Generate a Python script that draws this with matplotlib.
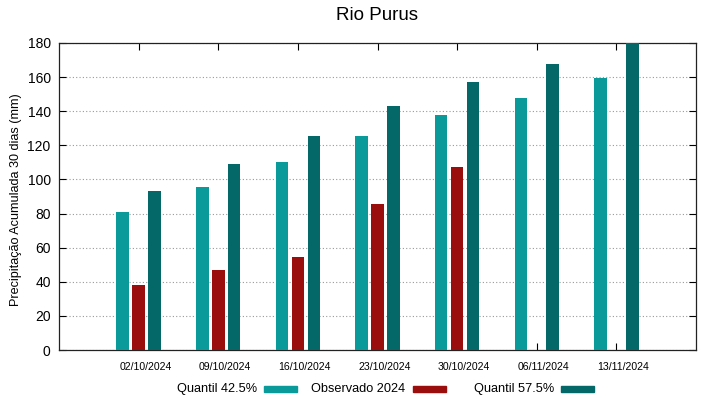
import matplotlib
matplotlib.use("Agg")
import matplotlib.pyplot as plt
from matplotlib.patches import Rectangle
import numpy as np

plt.rcParams['font.family'] = ['Liberation Sans', 'DejaVu Sans']

dates = ["02/10/2024", "09/10/2024", "16/10/2024", "23/10/2024",
         "30/10/2024", "06/11/2024", "13/11/2024"]
q425 = [80.8, 95.3, 110.2, 125.6, 137.9, 148.0, 159.4]
obs2024 = [38.1, 46.7, 54.5, 85.6, 107.5, np.nan, np.nan]
q575 = [93.4, 108.9, 125.7, 143.0, 157.0, 167.4, 181.0]

series_names = ["Quantil 42.5%", "Observado 2024", "Quantil 57.5%"]
colors = ["#0a9a9a", "#9a0e0e", "#046868"]

W, H = 719, 399
fig = plt.figure(figsize=(W / 100, H / 100), dpi=100)
ax = fig.add_axes([59 / W, 1 - 350 / H, (696 - 59) / W, (350 - 43) / H])

x = np.arange(1, len(dates) + 1)
width = 0.158
offsets = [-0.2, 0.0, 0.2]
for vals, off, c in zip([q425, obs2024, q575], offsets, colors):
    ax.bar(x + off, vals, width=width, color=c, zorder=3)

ax.set_xlim(0, 8)
ax.set_ylim(0, 180)
ax.set_yticks(np.arange(0, 181, 20))
# major ticks (marks only) at group centres, labels slightly right (gnuplot look)
ax.set_xticks(x)
ax.set_xticklabels([])
ax.set_xticks(x + 0.0875, minor=True)
ax.set_xticklabels(dates, minor=True, fontsize=7.6)
ax.tick_params(axis='x', which='minor', length=0, pad=9, top=False, bottom=False)
ax.tick_params(axis='y', labelsize=10, direction='in', length=5, pad=6,
               right=True, left=True)
ax.tick_params(axis='x', which='major', direction='in', length=5, top=True, bottom=True)
for sp in ax.spines.values():
    sp.set_linewidth(0.9)
    sp.set_color('#222222')
ax.yaxis.grid(True, linestyle=(0, (1, 2)), color='#999999', linewidth=0.8, zorder=0)
ax.set_axisbelow(True)

fig.text(16 / W, 1 - 200 / H, "Precipitação Acumulada 30 dias (mm)", rotation=90,
         ha='center', va='center', fontsize=9.1)
fig.text((59 + 696) / 2 / W, 1 - 16 / H, "Rio Purus", ha='center', va='center',
         fontsize=13.5)

# legend (gnuplot style: text then sample)
for i, (name, c) in enumerate(zip(series_names, colors)):
    sx = 264 + 148.5 * i
    fig.text((sx - 7) / W, 1 - 389 / H, name, ha='right', va='center', fontsize=9.2)
    fig.patches.append(Rectangle((sx / W, 1 - 392 / H), 33 / W, 6 / H,
                                 transform=fig.transFigure, color=c))

fig.savefig("out.png", dpi=100)
